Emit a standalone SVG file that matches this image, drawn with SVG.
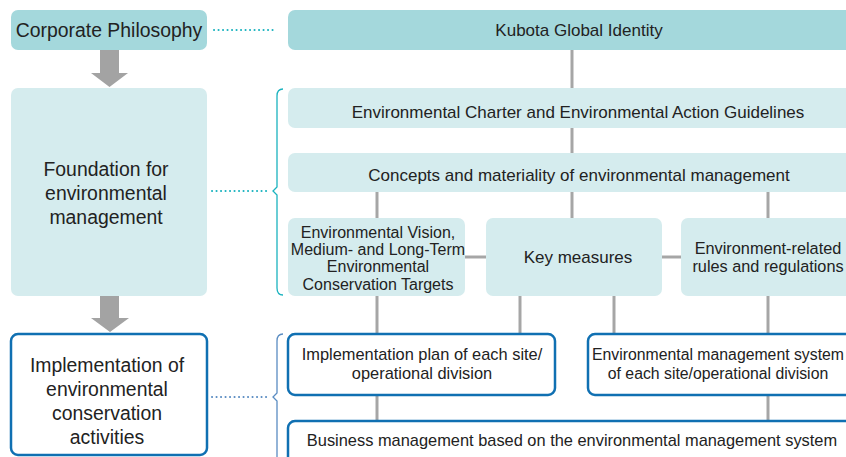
<svg xmlns="http://www.w3.org/2000/svg" width="846" height="457" viewBox="0 0 846 457">
<style>
text{font-family:"Liberation Sans",Arial,sans-serif;fill:#222;text-anchor:middle;dominant-baseline:central}
.dark{fill:#a4d8dc}
.light{fill:#d5ecee}
.blue{fill:#fff;stroke:#1070b2;stroke-width:2.5}
.ln{stroke:#a6a6a6;stroke-width:3;fill:none}
.big{font-size:19.4px}
.mid{font-size:17px}
.sm{font-size:16.4px}
.vs{font-size:16px}
</style>
<rect width="846" height="457" fill="#fff"/>
<g id="connectors">
<line class="ln" x1="572" y1="50" x2="572" y2="88"/>
<line class="ln" x1="572" y1="128" x2="572" y2="153"/>
<line class="ln" x1="377" y1="192" x2="377" y2="218"/>
<line class="ln" x1="572" y1="192" x2="572" y2="218"/>
<line class="ln" x1="768" y1="192" x2="768" y2="218"/>
<line class="ln" x1="465" y1="257" x2="486" y2="257"/>
<line class="ln" x1="662" y1="257" x2="681" y2="257"/>
<line class="ln" x1="377" y1="296" x2="377" y2="333"/>
<line class="ln" x1="520" y1="296" x2="520" y2="333"/>
<line class="ln" x1="614" y1="296" x2="614" y2="333"/>
<line class="ln" x1="768" y1="296" x2="768" y2="333"/>
<line class="ln" x1="377" y1="395" x2="377" y2="420"/>
<line class="ln" x1="768" y1="395" x2="768" y2="420"/>
<polygon points="100,50 119,50 119,73 128,73 109.5,87 91,73 100,73" fill="#a3a3a3"/>
<polygon points="100,296 119,296 119,318 129,318 110,332 91,318 100,318" fill="#a3a3a3"/>
<line x1="214" y1="30" x2="276" y2="30" stroke="#1bb3bf" stroke-width="2" stroke-dasharray="0.1 4.4" stroke-linecap="round"/>
<line x1="212" y1="191" x2="270" y2="191" stroke="#1bb3bf" stroke-width="2" stroke-dasharray="0.1 4.4" stroke-linecap="round"/>
<path d="M283,89 Q277,89 277,96 L277,187 L273,191 L277,195 L277,288 Q277,295 283,295" fill="none" stroke="#1bb3bf" stroke-width="1.3"/>
<line x1="212" y1="397" x2="270" y2="397" stroke="#5a8cc2" stroke-width="2" stroke-dasharray="0.1 4.4" stroke-linecap="round"/>
<path d="M283,334 Q277,334 277,341 L277,393 L273,397 L277,401 L277,457" fill="none" stroke="#5a8cc2" stroke-width="1.3"/>
</g>
<g id="corporate-philosophy">
<rect class="dark" x="11" y="10" width="196" height="40" rx="7"/>
<text class="big" x="109" y="30">Corporate Philosophy</text>
</g>
<g id="kubota-global-identity">
<rect class="dark" x="288" y="10" width="570" height="40" rx="7"/>
<text class="mid" x="579" y="30">Kubota Global Identity</text>
</g>
<g id="foundation">
<rect class="light" x="11" y="88" width="196" height="208" rx="7"/>
<text class="big" x="106" y="169">Foundation for</text>
<text class="big" x="106" y="193">environmental</text>
<text class="big" x="106" y="217">management</text>
</g>
<g id="charter">
<rect class="light" x="288" y="88" width="570" height="40" rx="7"/>
<text class="mid" x="578" y="112">Environmental Charter and Environmental Action Guidelines</text>
</g>
<g id="concepts">
<rect class="light" x="288" y="153" width="570" height="39" rx="7"/>
<text class="mid" x="579" y="175">Concepts and materiality of environmental management</text>
</g>
<g id="vision">
<rect class="light" x="288" y="218" width="177" height="78" rx="7"/>
<text class="vs" x="378" y="232">Environmental Vision,</text>
<text class="vs" x="378" y="249">Medium- and Long-Term</text>
<text class="vs" x="378" y="266">Environmental</text>
<text class="vs" x="378" y="284">Conservation Targets</text>
</g>
<g id="key-measures">
<rect class="light" x="486" y="218" width="176" height="78" rx="7"/>
<text class="mid" x="578" y="257">Key measures</text>
</g>
<g id="rules">
<rect class="light" x="681" y="218" width="177" height="78" rx="7"/>
<text x="768" y="248" font-size="16.3px">Environment-related</text>
<text x="768" y="266" font-size="16.3px">rules and regulations</text>
</g>
<g id="implementation">
<rect class="blue" x="11" y="334" width="196" height="121" rx="7"/>
<text class="big" x="107" y="365">Implementation of</text>
<text class="big" x="107" y="389">environmental</text>
<text class="big" x="107" y="413">conservation</text>
<text class="big" x="107" y="437">activities</text>
</g>
<g id="impl-plan">
<rect class="blue" x="288" y="334" width="267" height="61" rx="7"/>
<text class="sm" x="422" y="354">Implementation plan of each site/</text>
<text class="sm" x="422" y="373">operational division</text>
</g>
<g id="ems">
<rect class="blue" x="588" y="334" width="270" height="61" rx="7"/>
<text x="718" y="354" font-size="15.8px">Environmental management system</text>
<text x="718" y="373" font-size="15.8px">of each site/operational division</text>
</g>
<g id="business">
<rect class="blue" x="288" y="421" width="570" height="50" rx="7"/>
<text class="sm" x="572" y="440">Business management based on the environmental management system</text>
</g>
</svg>
